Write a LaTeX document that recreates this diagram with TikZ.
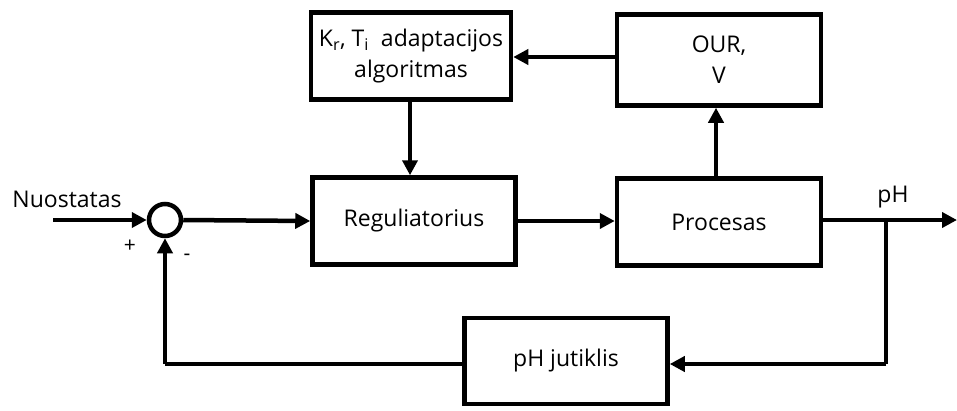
\documentclass[tikz,border=0pt]{standalone}
\usepackage{fontspec}
\setmainfont{Open Sans}
\usetikzlibrary{arrows.meta}
\begin{document}
\begin{tikzpicture}[x=1pt,y=-1pt,
  blk/.style={draw,line width=4.5pt,minimum width=#1,inner sep=0pt,align=center,font=\fontsize{23}{31}\selectfont},
  wire/.style={line width=4.5pt},
  arr/.style={wire,-{Triangle[length=15pt,width=15pt]}},
  lbl/.style={font=\fontsize{23}{28}\selectfont,inner sep=0pt},
  sign/.style={font=\fontsize{21}{24}\selectfont,inner sep=0pt}]
\useasboundingbox (0,0) rectangle (957,410);
% blocks
\node[blk=200pt,minimum height=87pt] (adapt) at (411,56) {K\textsubscript{r}, T\textsubscript{i}\ \ adaptacijos\\algoritmas};
\node[blk=204pt,minimum height=91pt] (our) at (719,60) {OUR,\\V};
\node[blk=203pt,minimum height=87pt] (reg) at (414,221) {Reguliatorius};
\node[blk=204pt,minimum height=87pt] (proc) at (719,222) {Procesas};
\node[blk=203pt,minimum height=86pt] (sens) at (566,361) {pH jutiklis};
% summing junction
\node[draw,circle,line width=4.5pt,minimum size=32pt,inner sep=0pt] (sum) at (165,220) {};
% input
\coordinate (in) at (53,220);
\node[lbl] (nuo) at (67,199) {Nuostatas};
\node[sign] (plus) at (130,246) {+};
\node[sign] (minus) at (187,257) {-};
% output branch
\coordinate (out) at (957,220);
\coordinate (tap) at (886,220);
\coordinate (tapdown) at (886,364);
\coordinate (fbcorner) at (165,364);
\node[lbl] (ph) at (893,197) {pH};
% connectors
\draw[arr] (in) -- (sum.west);
\draw[arr] (sum.east) -- (reg.west);
\draw[arr] (reg.east) -- (proc.west |- reg.east);
\draw[arr] (proc.east |- 0,220) -- (out);
\draw[wire] (tap) -- (tapdown);
\draw[arr] (tapdown) -- (sens.east |- tapdown);
\draw[wire] (sens.west |- fbcorner) -- (fbcorner);
\draw[arr] (fbcorner) -- (sum.south);
\draw[arr] (proc.north -| 716,0) -- (716,0 |- our.south);
\draw[arr] (our.west |- 0,57) -- (adapt.east |- 0,57);
\draw[arr] (410,0 |- adapt.south) -- (410,0 |- reg.north);
\end{tikzpicture}
\end{document}
